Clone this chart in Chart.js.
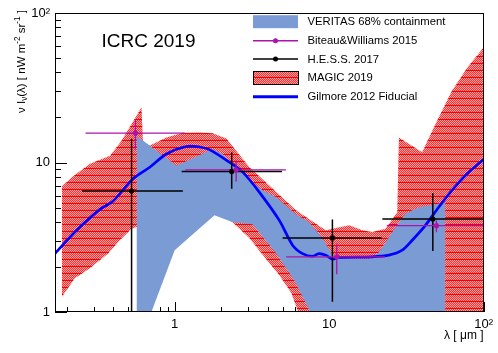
<!DOCTYPE html>
<html><head><meta charset="utf-8">
<script src="https://cdn.jsdelivr.net/npm/chart.js@4.4.0/dist/chart.umd.min.js"></script>
<style>html,body{margin:0;padding:0;background:#fff;overflow:hidden}</style>
</head><body>
<canvas id="c" width="498" height="353"></canvas>
<script>
// ---------------- data ----------------
const xTickLabels = {1: '1', 10: '10', 100: '10\u00B2'};
const yTickLabels = {1: '1', 10: '10', 100: '10\u00B2'};

const hessX     = [0.526, 2.34, 10.5, 46.9];
const hessY     = [6.44, 8.71, 3.13, 4.19];
const hessXLow  = [0.251, 1.11, 5.0, 22.1];
const hessXHigh = [1.13, 4.95, 21.9, 105];
const hessYLow  = [0.5, 6.68, 1.17, 2.56];
const hessYHigh = [14.4, 11.7, 4.15, 6.24];

const biteauX     = [0.557, 2.5, 11.2, 49.5];
const biteauY     = [15.7, 8.94, 2.34, 3.78];
const biteauXLow  = [0.265, 1.17, 5.28, 23.6];
const biteauXHigh = [1.16, 5.25, 23.0, 110];
const biteauYLow  = [12.2, 7.47, 1.79, 3.41];
const biteauYHigh = [19.3, 10.3, 2.87, 4.1];

const gilmoreX = [0.168, 0.232, 0.328, 0.398, 0.538, 0.69, 0.884, 1.19, 1.45, 1.68, 2.26, 2.76, 3.53, 4.76, 5.8, 6.73, 7.8, 8.6, 9.52, 10.5, 11.6, 19.0, 24.4, 29.7, 34.5, 42, 51.3, 62.4, 76.2, 100];
const gilmoreY = [2.46, 3.52, 4.86, 5.5, 7.79, 9.3, 11.4, 12.8, 12.7, 12.2, 10.05, 8.62, 6.34, 4.1, 2.8, 2.46, 2.36, 2.46, 2.4, 2.26, 2.32, 2.34, 2.4, 2.59, 3.02, 3.8, 5.04, 6.5, 8.19, 10.5];

const veritasUpperX = [0.566, 1.03, 1.77, 2.05, 2.63, 3.71, 4.53, 6.1, 7.43, 8.88, 10.5, 11.6, 18.1, 21, 26.9, 31.3, 38.1, 56.6];
const veritasUpperY = [15.1, 9.55, 12.3, 11.4, 8.84, 6.51, 5.87, 4.5, 3.98, 3.21, 2.43, 2.29, 2.26, 2.51, 3.69, 4.57, 5.01, 5.41];
const veritasLowerX = [0.566, 0.707, 1.0, 1.81, 2.38, 3.19, 4.53, 5.94, 6.9, 7.54, 8.6, 56.6];
const veritasLowerY = [0.6, 1.0, 2.59, 4.43, 3.98, 3.86, 2.47, 1.63, 1.2, 1.0, 0.56, 0.56];

const magicUpperX = [0.186, 0.216, 0.283, 0.381, 0.453, 0.526, 0.61, 0.625, 0.69, 0.884, 1.13, 1.45, 1.76, 2.16, 2.5, 3.05, 4.1, 6.1, 7.65, 9.52, 10.5, 13.5, 16.4, 19.0, 23.2, 27.6, 28.3, 40, 48.8, 62.4, 80, 100];
const magicUpperY = [6.92, 7.98, 9.8, 11.1, 14.0, 18.1, 23.4, 13.0, 13.0, 14.7, 15.8, 15.9, 15.7, 14.5, 12.0, 9.3, 7.03, 4.79, 4.1, 3.52, 3.61, 3.8, 3.52, 3.43, 3.61, 4.64, 14.7, 11.7, 18.1, 30.2, 44.3, 58.7];
const magicLowerX = [0.186, 0.226, 0.283, 0.371, 0.442, 0.526, 0.566, 1.0, 1.81, 2.37, 3.05, 3.81, 4.76, 5.69, 6.31, 7.43, 100];
const magicLowerY = [1.26, 1.68, 1.96, 2.46, 3.02, 3.61, 3.7, 3.8, 4.64, 3.98, 3.11, 2.33, 1.76, 1.34, 1.0, 0.56, 0.56];

const legendLabels = ['VERITAS 68% containment', 'Biteau&Williams 2015', 'H.E.S.S. 2017', 'MAGIC 2019', 'Gilmore 2012 Fiducial'];
const yTitleParts = [['\u03BD I', 0], ['\u03BD', 1], ['(\u03BB) [ nW m', 0], ['-2', 2], [' sr', 0], ['-1', 2], [' ]', 0]];
const xTitle = '\u03BB [ \u03BCm ]';
const labelText = 'ICRC 2019';

// ---------------- styles ----------------
const FONT = '"Liberation Sans", Arial, Helvetica, sans-serif';
const VERITAS_COLOR = 'rgb(122,155,211)';
const MAGENTA = 'rgb(170,20,170)';
const GILMORE_COLOR = '#0000ff';

function makeHatch() {
  const p = document.createElement('canvas');
  p.width = 2; p.height = 7;
  const g = p.getContext('2d');
  for (let y = 1; y < 7; y++) for (let x = 0; x < 2; x++) {
    g.fillStyle = ((x + y) % 2 === 0) ? 'rgb(255,45,45)' : 'rgb(255,165,165)';
    g.fillRect(x, y, 1, 1);
  }
  g.fillStyle = 'rgb(245,0,0)';
  g.fillRect(0, 0, 2, 1);
  return document.getElementById('c').getContext('2d').createPattern(p, 'repeat');
}
const hatch = makeHatch();

const zip = (xs, ys) => xs.map((x, i) => ({x, y: ys[i]}));
function errorBars(xs, ys, xl, xh, yl, yh) {
  const pts = [];
  for (let i = 0; i < xs.length; i++) {
    pts.push({x: xl[i], y: ys[i]}, {x: xh[i], y: ys[i]}, {x: xs[i], y: null});
    pts.push({x: xs[i], y: yl[i]}, {x: xs[i], y: yh[i]}, {x: xs[i], y: null});
  }
  return pts;
}

const rootAxes = {
  id: 'rootAxes',
  beforeDatasetsDraw(chart) {
    const {ctx, chartArea: a, scales: {x, y}} = chart;
    ctx.save();
    ctx.strokeStyle = '#000';
    ctx.lineWidth = 1;
    ctx.beginPath();
    for (let d = 0.1; d <= 100; d *= 10) {
      for (let m = 1; m <= 9; m++) {
        const v = d * m;
        if (v < x.min - 1e-9 || v > x.max + 1e-9) continue;
        const px = Math.round(x.getPixelForValue(v)) + 0.5;
        const len = (m === 1) ? 10 : 5;
        ctx.moveTo(px, a.bottom); ctx.lineTo(px, a.bottom - len);
      }
    }
    for (let d = 1; d <= 100; d *= 10) {
      for (let m = 1; m <= 9; m++) {
        const v = d * m;
        if (v < y.min - 1e-9 || v > y.max + 1e-9) continue;
        const py = Math.round(y.getPixelForValue(v)) + 0.5;
        const len = (m === 1) ? 12 : 6;
        ctx.moveTo(a.left, py); ctx.lineTo(a.left + len, py);
      }
    }
    ctx.stroke();
    ctx.restore();
  },
  afterDatasetsDraw(chart) {
    const {ctx, chartArea: a} = chart;
    ctx.save();
    ctx.strokeStyle = '#000';
    ctx.lineWidth = 1;
    ctx.strokeRect(Math.round(a.left) + 0.5, Math.round(a.top) + 0.5, Math.round(a.right - a.left) - 1, Math.round(a.bottom - a.top) - 1);
    ctx.restore();
  },
  afterDraw(chart) {
    const {ctx, chartArea: a} = chart;
    ctx.save();
    // ICRC label
    ctx.fillStyle = '#000';
    ctx.font = '19px ' + FONT;
    ctx.textBaseline = 'middle';
    ctx.textAlign = 'left';
    ctx.fillText(labelText, 101.5, 42);

    // legend
    const lx0 = 253, lx1 = 298, tx = 307.5;
    const rows = [21.7, 40.7, 59, 77.5, 96.7];
    ctx.font = '11.3px ' + FONT;
    rows.forEach((yy, i) => {
      if (i === 0) {
        ctx.fillStyle = VERITAS_COLOR;
        ctx.fillRect(lx0, yy - 6.5, lx1 - lx0, 13);
      } else if (i === 1 || i === 2) {
        const col = i === 1 ? MAGENTA : '#000';
        ctx.strokeStyle = col; ctx.lineWidth = 1.5;
        ctx.beginPath(); ctx.moveTo(lx0, yy); ctx.lineTo(lx1, yy); ctx.stroke();
        ctx.fillStyle = col;
        ctx.beginPath(); ctx.arc((lx0 + lx1) / 2, yy, 2.5, 0, Math.PI * 2); ctx.fill();
      } else if (i === 3) {
        ctx.fillStyle = hatch;
        ctx.fillRect(lx0, yy - 6.5, lx1 - lx0, 13);
        ctx.strokeStyle = '#000'; ctx.lineWidth = 1;
        ctx.strokeRect(lx0 + 0.5, Math.round(yy - 6.5) + 0.5, lx1 - lx0, 13);
      } else {
        ctx.strokeStyle = GILMORE_COLOR; ctx.lineWidth = 3;
        ctx.beginPath(); ctx.moveTo(lx0, yy); ctx.lineTo(lx1, yy); ctx.stroke();
      }
      ctx.fillStyle = '#000';
      ctx.textAlign = 'left';
      ctx.fillText(legendLabels[i], tx, yy + 0.5);
    });

    // x title
    ctx.font = '12px ' + FONT;
    ctx.textAlign = 'right';
    ctx.fillText(xTitle, a.right, 336);

    // y title with sub/superscripts
    const base = 11.5, small = 8.2;
    const widths = yTitleParts.map(([t, k]) => { ctx.font = (k ? small : base) + 'px ' + FONT; return ctx.measureText(t).width; });
    const W = widths.reduce((s, w) => s + w, 0);
    ctx.translate(21.5, 10 + W);
    ctx.rotate(-Math.PI / 2);
    ctx.textAlign = 'left';
    ctx.textBaseline = 'middle';
    let cx = 0;
    yTitleParts.forEach(([t, k], i) => {
      ctx.font = (k ? small : base) + 'px ' + FONT;
      const off = k === 1 ? 3.5 : (k === 2 ? -4 : 0);
      ctx.fillText(t, cx, off);
      cx += widths[i];
    });
    ctx.restore();
  }
};

new Chart(document.getElementById('c'), {
  type: 'line',
  data: {
    datasets: [
      {data: zip(magicLowerX, magicLowerY), borderWidth: 0, pointRadius: 0, fill: false, order: 10},
      {data: zip(magicUpperX, magicUpperY), borderWidth: 0, pointRadius: 0, fill: '-1', backgroundColor: hatch, order: 9},
      {data: zip(veritasLowerX, veritasLowerY), borderWidth: 0, pointRadius: 0, fill: false, order: 8},
      {data: zip(veritasUpperX, veritasUpperY), borderWidth: 0, pointRadius: 0, fill: '-1', backgroundColor: VERITAS_COLOR, order: 7},
      {data: zip(gilmoreX, gilmoreY), borderColor: GILMORE_COLOR, borderWidth: 2.7, pointRadius: 0, tension: 0.3, fill: false, order: 5},
      {data: errorBars(hessX, hessY, hessXLow, hessXHigh, hessYLow, hessYHigh), borderColor: '#000', borderWidth: 1.5, pointRadius: 0, fill: false, spanGaps: false, order: 4},
      {data: errorBars(biteauX, biteauY, biteauXLow, biteauXHigh, biteauYLow, biteauYHigh), borderColor: MAGENTA, borderWidth: 1.3, pointRadius: 0, fill: false, spanGaps: false, order: 3},
      {data: zip(hessX, hessY), showLine: false, pointRadius: 2.6, pointBorderWidth: 0, pointBackgroundColor: '#000', order: 2},
      {data: zip(biteauX, biteauY), showLine: false, pointRadius: 2.6, pointBorderWidth: 0, pointBackgroundColor: MAGENTA, order: 1}
    ]
  },
  options: {
    responsive: false,
    animation: false,
    events: [],
    layout: {padding: {left: 0, top: 13, right: 13, bottom: 0}},
    plugins: {legend: {display: false}, tooltip: {enabled: false}},
    scales: {
      x: {
        type: 'logarithmic', min: 0.168, max: 100, bounds: 'data',
        grid: {display: false, drawTicks: false}, border: {display: false},
        afterBuildTicks: s => { s.ticks = [1, 10, 100].map(v => ({value: v})); },
        afterFit: s => { s.height = 41; },
        ticks: {autoSkip: false, maxRotation: 0, padding: 5, color: '#000', font: {family: FONT, size: 13},
          callback: v => xTickLabels[v] || ''}
      },
      y: {
        type: 'logarithmic', min: 1, max: 100, bounds: 'data',
        grid: {display: false, drawTicks: false}, border: {display: false},
        afterBuildTicks: s => { s.ticks = [1, 10, 100].map(v => ({value: v})); },
        afterFit: s => { s.width = 55; },
        ticks: {autoSkip: false, padding: 5, color: '#000', font: {family: FONT, size: 13},
          callback: v => yTickLabels[v] || ''}
      }
    }
  },
  plugins: [rootAxes]
});
</script>
</body></html>
